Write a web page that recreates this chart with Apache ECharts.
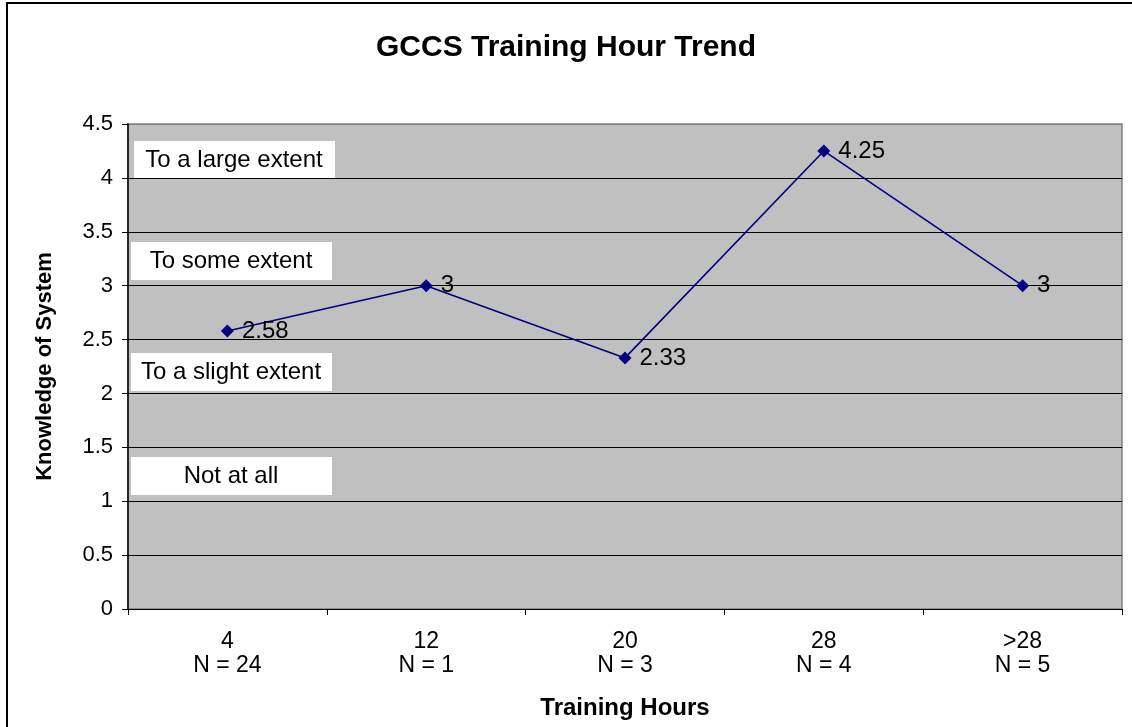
<!DOCTYPE html>
<html>
<head>
<meta charset="utf-8">
<script src="https://cdn.jsdelivr.net/npm/echarts@6/dist/echarts.min.js"></script>
<style>
  html, body { margin: 0; padding: 0; background: #fff; }
  #main { width: 1132px; height: 727px; }
</style>
</head>
<body>
<div id="main"></div>
<script>
var hours = ['4', '12', '20', '28', '>28'];
var counts = [24, 1, 3, 4, 5];
var knowledge = [2.58, 3, 2.33, 4.25, 3];
var scaleLabels = ['To a large extent', 'To some extent', 'To a slight extent', 'Not at all'];
var yTicks = [0, 0.5, 1, 1.5, 2, 2.5, 3, 3.5, 4, 4.5];

var chart = echarts.init(document.getElementById('main'));
var font = '"Liberation Sans", Arial, sans-serif';

// white label boxes on the left of the plot
var boxTops = [141, 242, 353, 457];
var boxes = scaleLabels.map(function (t, i) {
    return {
        type: 'group', left: i === 0 ? 134 : 131, top: boxTops[i],
        children: [
            { type: 'rect', shape: { x: 0, y: 0, width: 201, height: 38 }, style: { fill: '#fff' } },
            { type: 'text', x: 100, y: 19, style: { text: t, fill: '#000', font: '24px ' + font, align: 'center', verticalAlign: 'middle' } }
        ]
    };
});

// top grid line is grey like the plot border, others black
var gridColors = yTicks.map(function (v, i) { return i === yTicks.length - 1 ? '#808080' : '#000'; });

var option = {
    backgroundColor: '#fff',
    animation: false,
    title: {
        text: 'GCCS Training Hour Trend', left: 'center', top: 28,
        textStyle: { fontFamily: font, fontSize: 30, fontWeight: 'bold', color: '#000' }
    },
    grid: { left: 128, right: 10, top: 124, bottom: 118 },
    xAxis: {
        type: 'category', data: hours.map(function (h, i) { return h + '\nN = ' + counts[i]; }),
        boundaryGap: true,
        name: 'Training Hours', nameLocation: 'middle', nameGap: 87,
        nameTextStyle: { fontFamily: font, fontSize: 24, fontWeight: 'bold', color: '#000' },
        axisLine: { lineStyle: { color: '#000', width: 1 } },
        axisTick: { show: true, length: 6, lineStyle: { color: '#000' } },
        axisLabel: { fontFamily: font, fontSize: 23, color: '#000', margin: 21, lineHeight: 24 },
        splitLine: { show: false }
    },
    yAxis: {
        type: 'value', min: 0, max: 4.5, interval: 0.5,
        name: 'Knowledge of System', nameLocation: 'middle', nameGap: 72, nameRotate: 90,
        nameTextStyle: { fontFamily: font, fontSize: 22, fontWeight: 'bold', color: '#000' },
        axisLine: { show: true, lineStyle: { color: '#000', width: 1.5 } },
        axisTick: { show: true, length: 6, inside: false, lineStyle: { color: '#000' } },
        axisLabel: { fontFamily: font, fontSize: 22, color: '#000', margin: 15,
            formatter: function (v) { return yTicks.indexOf(v) >= 0 ? String(v) : ''; } },
        splitLine: { show: true, lineStyle: { color: gridColors, width: 1 } },
        splitArea: { show: false }
    },
    graphic: [
        { type: 'rect', z: -1, shape: { x: 128, y: 124, width: 994, height: 485 }, style: { fill: '#c0c0c0', stroke: '#808080', lineWidth: 1.5 } },
        { type: 'rect', shape: { x: 7, y: 3, width: 1140, height: 740 }, style: { fill: 'none', stroke: '#000', lineWidth: 2 } }
    ].concat(boxes),
    series: [{
        type: 'line', data: knowledge,
        symbol: 'diamond', symbolSize: 13,
        itemStyle: { color: '#000080' },
        lineStyle: { color: '#000080', width: 1.6 },
        label: { show: true, position: 'right', distance: 8, fontFamily: font, fontSize: 24, color: '#000' },
        z: 5
    }]
};
chart.setOption(option);
</script>
</body>
</html>
